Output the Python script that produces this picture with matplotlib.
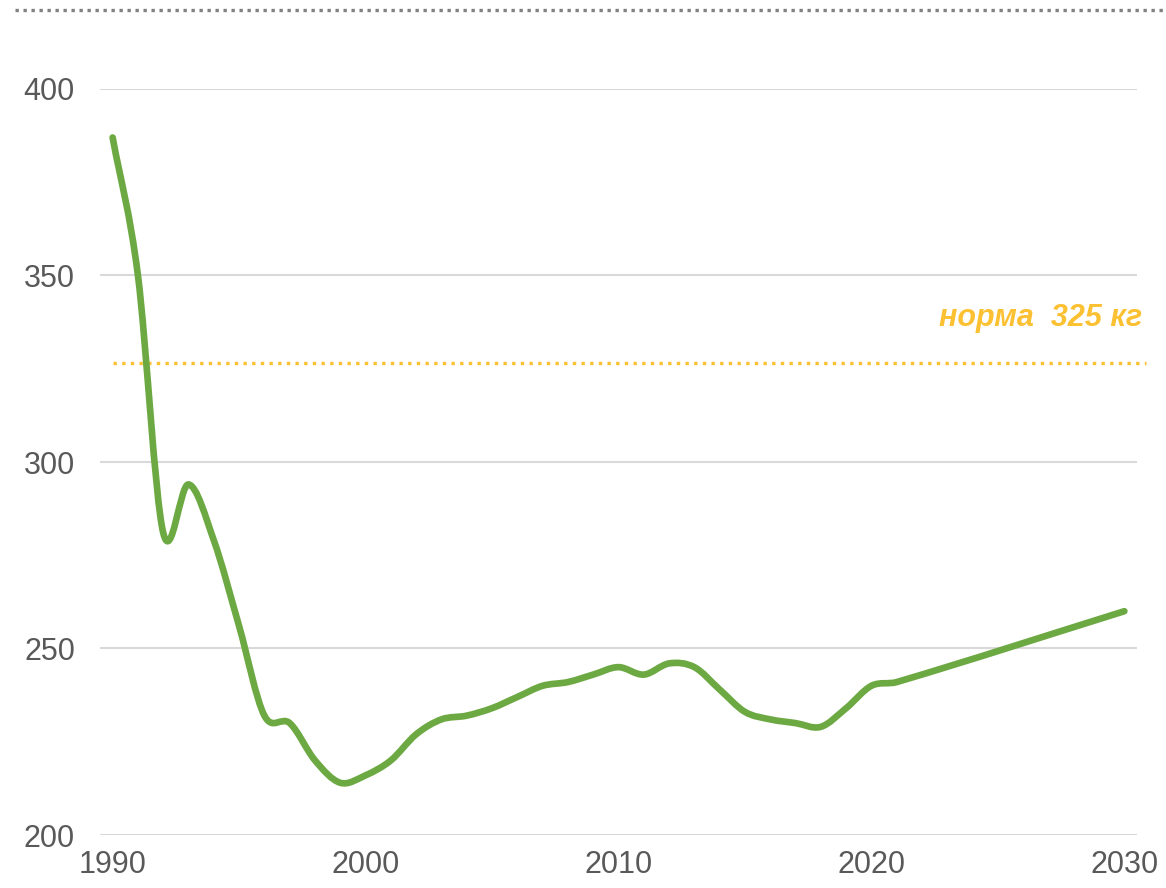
import matplotlib
matplotlib.use('agg')
import matplotlib.pyplot as plt
from matplotlib.path import Path
from matplotlib.patches import PathPatch
from matplotlib.lines import Line2D

# data (kg per person per year)
years = [1990, 1991, 1992, 1993, 1994, 1995, 1996, 1997, 1998, 1999,
	2000, 2001, 2002, 2003, 2004, 2005, 2006, 2007, 2008, 2009,
	2010, 2011, 2012, 2013, 2014, 2015, 2016, 2017, 2018, 2019,
	2020, 2021, 2030]
values = [387, 350, 281, 294, 279, 256, 232, 230, 220, 214,
	216, 220, 227, 231, 232, 234, 237, 240, 241, 243,
	245, 243, 246, 245, 239, 233, 231, 230, 229, 234,
	240, 241, 260]
norm_level = 326.5
norm_label = 'норма  325 кг'
x_ticks = [1990, 2000, 2010, 2020, 2030]
y_ticks = [200, 250, 300, 350, 400]

GREEN = '#6DA943'
GOLD = '#FCC133'
GRID = '#D9D9D9'
TEXT = '#595959'

plt.rcParams['font.family'] = ['Liberation Sans', 'DejaVu Sans']

## Build a smooth bezier path through the points (cubic hermite in x)
# @param xs x values
# @param ys y values
# @return matplotlib Path
def smooth_path(xs, ys):
	n = len(xs)
	# slopes at each point
	m = []
	for i in range(n):
		a = max(i - 1, 0)
		b = min(i + 1, n - 1)
		m.append((ys[b] - ys[a]) / (xs[b] - xs[a]))
	verts = [(xs[0], ys[0])]
	codes = [Path.MOVETO]
	for i in range(n - 1):
		h = (xs[i + 1] - xs[i]) / 3.0
		verts += [(xs[i] + h, ys[i] + m[i] * h),
			(xs[i + 1] - h, ys[i + 1] - m[i + 1] * h),
			(xs[i + 1], ys[i + 1])]
		codes += [Path.CURVE4, Path.CURVE4, Path.CURVE4]
	return Path(verts, codes)

fig = plt.figure(figsize=(11.66, 8.88), dpi=100)
ax = fig.add_axes([100/1166, 53/888, 1037/1166, 746/888])

ax.set_xlim(1989.5, 2030.5)
ax.set_ylim(200, 400)

# grid
for y in y_ticks:
	ax.axhline(y, color=GRID, lw=1.5, zorder=1)

# norm line + label
ax.plot([years[0], 2030.85], [norm_level, norm_level], color=GOLD, lw=2.4,
	linestyle=(0, (1, 1.6)), zorder=2, clip_on=False)
ax.text(2030.72, norm_level + 12, norm_label, color=GOLD, fontsize=22,
	fontweight='bold', fontstyle='italic', ha='right', va='center')

# main series
patch = PathPatch(smooth_path(years, values), facecolor='none', edgecolor=GREEN,
	lw=4.8, capstyle='round', joinstyle='round', zorder=3, clip_on=False)
ax.add_patch(patch)

ax.set_xticks(x_ticks)
ax.set_yticks(y_ticks)
ax.tick_params(axis='both', length=0, labelsize=22, labelcolor=TEXT)
ax.tick_params(axis='y', pad=18)
ax.tick_params(axis='x', pad=11)
for s in ax.spines.values():
	s.set_visible(False)

# dotted rule across the top
fig.add_artist(Line2D([15/1166, 1.0], [1 - 10/888, 1 - 10/888], color='#808080',
	lw=2.4, linestyle=(0, (1, 1.4)), transform=fig.transFigure))

fig.savefig('out.png', dpi=100, facecolor='white')
